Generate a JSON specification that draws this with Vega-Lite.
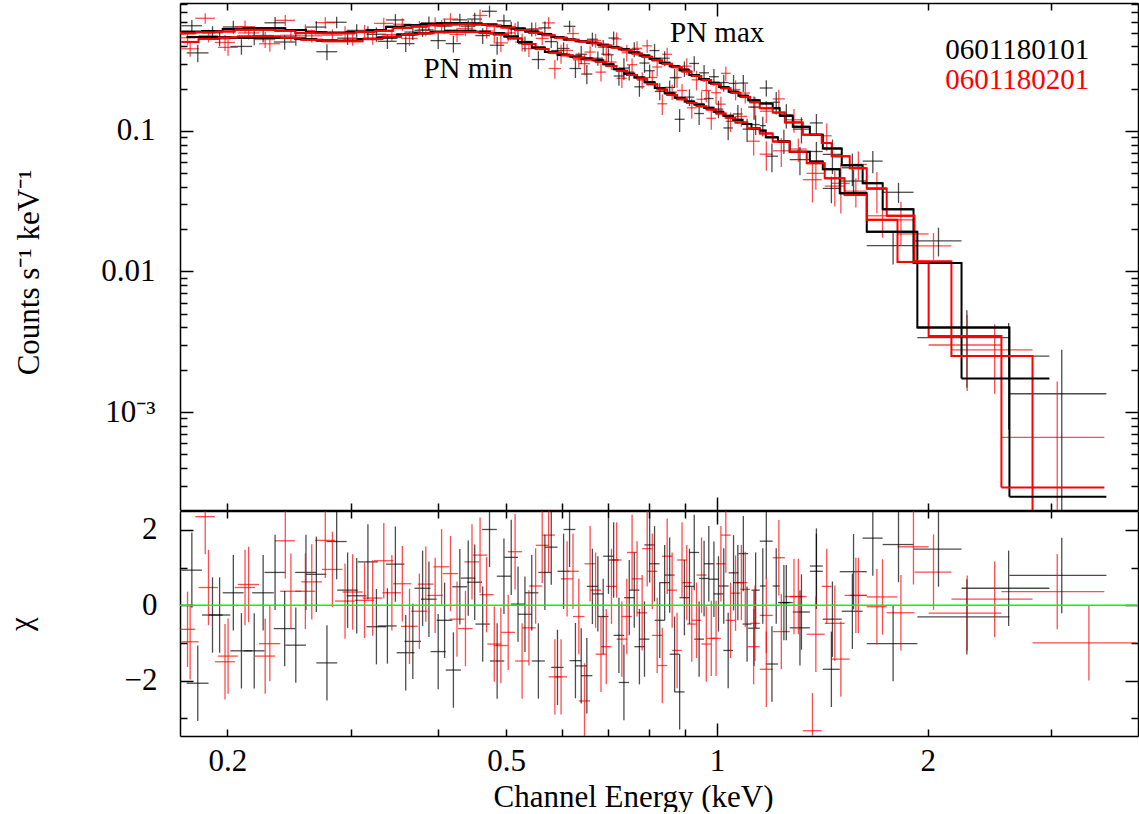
{
"$schema": "https://vega.github.io/schema/vega-lite/v6.json",
"padding": {"left": 5, "top": 2, "right": 1, "bottom": 0},
"spacing": -2,
"config": {
  "font": "Liberation Serif",
  "view": {"stroke": null},
  "axis": {"domainColor": "#000000", "domainWidth": 1.5, "tickColor": "#000000", "tickWidth": 1.5, "tickSize": 0, "grid": false,
    "labelFont": "Liberation Serif", "labelFontSize": 31, "labelColor": "#000000", "labelOverlap": false, "labelBound": false, "labelFlush": false,
    "titleFont": "Liberation Serif", "titleFontSize": 31, "titleFontWeight": "normal", "titleColor": "#000000", "zindex": 1}
},
"datasets": {
"t": [
 {"t":"PN max","x":0.857,"y":0.43,"o":1},
 {"t":"PN min","x":0.381,"y":0.238,"o":1},
 {"t":"0601180101","x":2.118,"y":0.3253,"o":1},
 {"t":"0601180201","x":2.118,"y":0.1988,"o":2}
],
"d": [
{"o":1,"s":"x","a":0.172,"b":0.184,"e":0.178,"m":0.508,"y":0.56,"l":0.504,"h":0.616,"r":0.93,"p":-0.07,"q":1.93},
{"o":1,"s":"x","a":0.184,"b":0.197,"e":0.1905,"m":0.514,"y":0.499,"l":0.443,"h":0.556,"r":-0.26,"p":-1.26,"q":0.74},
{"o":1,"s":"x","a":0.197,"b":0.211,"e":0.204,"m":0.53,"y":0.549,"l":0.491,"h":0.607,"r":0.33,"p":-0.67,"q":1.33},
{"o":1,"s":"x","a":0.211,"b":0.226,"e":0.2185,"m":0.537,"y":0.466,"l":0.407,"h":0.525,"r":-1.21,"p":-2.21,"q":-0.21},
{"o":1,"s":"x","a":0.226,"b":0.242,"e":0.234,"m":0.537,"y":0.588,"l":0.529,"h":0.647,"r":0.87,"p":-0.13,"q":1.87},
{"o":1,"s":"x","a":0.242,"b":0.259,"e":0.2505,"m":0.522,"y":0.461,"l":0.404,"h":0.518,"r":-1.06,"p":-2.06,"q":-0.06},
{"o":1,"s":"x","a":0.259,"b":0.277,"e":0.268,"m":0.503,"y":0.548,"l":0.493,"h":0.604,"r":0.82,"p":-0.18,"q":1.82},
{"o":1,"s":"x","a":0.277,"b":0.296,"e":0.2865,"m":0.5,"y":0.593,"l":0.538,"h":0.648,"r":1.69,"p":0.69,"q":2.69},
{"o":1,"s":"x","a":0.296,"b":0.316,"e":0.306,"m":0.505,"y":0.519,"l":0.463,"h":0.575,"r":0.25,"p":-0.75,"q":1.25},
{"o":1,"s":"x","a":0.316,"b":0.337,"e":0.3265,"m":0.52,"y":0.487,"l":0.43,"h":0.545,"r":-0.57,"p":-1.57,"q":0.43},
{"o":1,"s":"x","a":0.337,"b":0.358,"e":0.3475,"m":0.55,"y":0.616,"l":0.556,"h":0.677,"r":1.09,"p":0.09,"q":2.09},
{"o":1,"s":"x","a":0.358,"b":0.378,"e":0.368,"m":0.565,"y":0.505,"l":0.443,"h":0.568,"r":-0.96,"p":-1.96,"q":0.04},
{"o":1,"s":"x","a":0.378,"b":0.398,"e":0.388,"m":0.577,"y":0.587,"l":0.523,"h":0.651,"r":0.16,"p":-0.84,"q":1.16},
{"o":1,"s":"x","a":0.398,"b":0.419,"e":0.4085,"m":0.583,"y":0.557,"l":0.493,"h":0.622,"r":-0.4,"p":-1.4,"q":0.6},
{"o":1,"s":"x","a":0.419,"b":0.44,"e":0.4295,"m":0.585,"y":0.617,"l":0.552,"h":0.681,"r":0.49,"p":-0.51,"q":1.49},
{"o":1,"s":"x","a":0.44,"b":0.462,"e":0.451,"m":0.582,"y":0.625,"l":0.555,"h":0.694,"r":0.61,"p":-0.39,"q":1.61},
{"o":1,"s":"x","a":0.462,"b":0.485,"e":0.4735,"m":0.572,"y":0.71,"l":0.641,"h":0.779,"r":2.01,"p":1.01,"q":3.01},
{"o":1,"s":"x","a":0.485,"b":0.508,"e":0.4965,"m":0.556,"y":0.607,"l":0.541,"h":0.674,"r":0.77,"p":-0.23,"q":1.77},
{"o":1,"s":"x","a":0.508,"b":0.532,"e":0.52,"m":0.535,"y":0.537,"l":0.472,"h":0.601,"r":0.03,"p":-0.97,"q":1.03},
{"o":1,"s":"x","a":0.532,"b":0.556,"e":0.544,"m":0.51,"y":0.53,"l":0.469,"h":0.591,"r":0.33,"p":-0.67,"q":1.33},
{"o":1,"s":"x","a":0.556,"b":0.58,"e":0.568,"m":0.49,"y":0.541,"l":0.482,"h":0.6,"r":0.87,"p":-0.13,"q":1.87},
{"o":1,"s":"x","a":0.58,"b":0.604,"e":0.592,"m":0.465,"y":0.373,"l":0.317,"h":0.429,"r":-1.65,"p":-2.65,"q":-0.65},
{"o":1,"s":"x","a":0.604,"b":0.628,"e":0.616,"m":0.447,"y":0.555,"l":0.501,"h":0.608,"r":2.01,"p":1.01,"q":3.01},
{"o":1,"s":"x","a":0.628,"b":0.652,"e":0.64,"m":0.435,"y":0.351,"l":0.299,"h":0.403,"r":-1.61,"p":-2.61,"q":-0.61},
{"o":1,"s":"x","a":0.652,"b":0.676,"e":0.664,"m":0.424,"y":0.449,"l":0.398,"h":0.5,"r":0.5,"p":-0.5,"q":1.5},
{"o":1,"s":"x","a":0.676,"b":0.7,"e":0.688,"m":0.41,"y":0.395,"l":0.346,"h":0.444,"r":-0.3,"p":-1.3,"q":0.7},
{"o":1,"s":"x","a":0.7,"b":0.724,"e":0.712,"m":0.396,"y":0.458,"l":0.406,"h":0.509,"r":1.2,"p":0.2,"q":2.2},
{"o":1,"s":"x","a":0.724,"b":0.749,"e":0.7365,"m":0.381,"y":0.28,"l":0.23,"h":0.329,"r":-2.05,"p":-3.05,"q":-1.05},
{"o":1,"s":"x","a":0.749,"b":0.775,"e":0.762,"m":0.362,"y":0.381,"l":0.334,"h":0.428,"r":0.4,"p":-0.6,"q":1.4},
{"o":1,"s":"x","a":0.775,"b":0.801,"e":0.788,"m":0.344,"y":0.304,"l":0.259,"h":0.349,"r":-0.9,"p":-1.9,"q":0.1},
{"o":1,"s":"x","a":0.801,"b":0.828,"e":0.8145,"m":0.326,"y":0.373,"l":0.33,"h":0.415,"r":1.1,"p":0.1,"q":2.1},
{"o":1,"s":"x","a":0.828,"b":0.856,"e":0.842,"m":0.305,"y":0.329,"l":0.289,"h":0.369,"r":0.6,"p":-0.4,"q":1.6},
{"o":1,"s":"x","a":0.856,"b":0.884,"e":0.87,"m":0.288,"y":0.239,"l":0.202,"h":0.276,"r":-1.3,"p":-2.3,"q":-0.3},
{"o":1,"s":"x","a":0.884,"b":0.913,"e":0.8985,"m":0.27,"y":0.277,"l":0.242,"h":0.312,"r":0.2,"p":-0.8,"q":1.2},
{"o":1,"s":"x","a":0.913,"b":0.943,"e":0.928,"m":0.25,"y":0.302,"l":0.265,"h":0.34,"r":1.4,"p":0.4,"q":2.4},
{"o":1,"s":"x","a":0.943,"b":0.974,"e":0.9585,"m":0.234,"y":0.259,"l":0.224,"h":0.294,"r":0.71,"p":-0.29,"q":1.71},
{"o":1,"s":"x","a":0.974,"b":1.006,"e":0.99,"m":0.22,"y":0.243,"l":0.21,"h":0.276,"r":0.69,"p":-0.31,"q":1.69},
{"o":1,"s":"x","a":1.006,"b":1.039,"e":1.0225,"m":0.205,"y":0.221,"l":0.19,"h":0.251,"r":0.51,"p":-0.49,"q":1.51},
{"o":1,"s":"x","a":1.039,"b":1.073,"e":1.056,"m":0.19,"y":0.218,"l":0.186,"h":0.25,"r":0.86,"p":-0.14,"q":1.86},
{"o":1,"s":"x","a":1.073,"b":1.108,"e":1.0905,"m":0.178,"y":0.219,"l":0.189,"h":0.25,"r":1.37,"p":0.37,"q":2.37},
{"o":1,"s":"x","a":1.108,"b":1.151,"e":1.1295,"m":0.165,"y":0.148,"l":0.12,"h":0.176,"r":-0.61,"p":-1.61,"q":0.39},
{"o":1,"s":"x","a":1.151,"b":1.201,"e":1.176,"m":0.157,"y":0.202,"l":0.176,"h":0.229,"r":1.7,"p":0.7,"q":2.7},
{"o":1,"s":"x","a":1.201,"b":1.229,"e":1.215,"m":0.145,"y":0.16,"l":0.131,"h":0.189,"r":0.51,"p":-0.49,"q":1.51},
{"o":1,"s":"x","a":1.229,"b":1.283,"e":1.256,"m":0.128,"y":0.13,"l":0.104,"h":0.155,"r":0.07,"p":-0.93,"q":1.07},
{"o":1,"s":"x","a":1.283,"b":1.357,"e":1.32,"m":0.107,"y":0.103,"l":0.0815,"h":0.125,"r":-0.18,"p":-1.18,"q":0.82},
{"o":1,"s":"x","a":1.357,"b":1.416,"e":1.3865,"m":0.094,"y":0.114,"l":0.0948,"h":0.132,"r":1.04,"p":0.04,"q":2.04},
{"o":1,"s":"x","a":1.416,"b":1.507,"e":1.4615,"m":0.075,"y":0.0681,"l":0.0494,"h":0.0869,"r":-0.37,"p":-1.37,"q":0.63},
{"o":1,"s":"x","a":1.507,"b":1.614,"e":1.5605,"m":0.057,"y":0.0547,"l":0.0405,"h":0.069,"r":-0.16,"p":-1.16,"q":0.84},
{"o":1,"s":"x","a":1.614,"b":1.724,"e":1.669,"m":0.0425,"y":0.061,"l":0.05,"h":0.072,"r":1.78,"p":0.78,"q":2.78},
{"o":1,"s":"x","a":1.724,"b":1.908,"e":1.816,"m":0.0277,"y":0.0366,"l":0.0307,"h":0.0427,"r":1.61,"p":0.61,"q":2.61},
{"o":1,"s":"x","a":1.908,"b":2.234,"e":2.071,"m":0.0115,"y":0.0165,"l":0.0128,"h":0.0205,"r":1.49,"p":0.49,"q":2.49},
{"o":1,"s":"x","a":2.234,"b":2.982,"e":2.608,"m":0.00173,"y":0.0025,"l":0.00075,"h":0.0043,"r":0.45,"p":-0.55,"q":1.45},
{"o":1,"s":"n","a":0.175,"b":0.188,"e":0.1815,"m":0.465,"y":0.359,"l":0.308,"h":0.41,"r":-2.07,"p":-3.07,"q":-1.07},
{"o":1,"s":"n","a":0.188,"b":0.202,"e":0.195,"m":0.465,"y":0.452,"l":0.401,"h":0.503,"r":-0.26,"p":-1.26,"q":0.74},
{"o":1,"s":"n","a":0.202,"b":0.217,"e":0.2095,"m":0.46,"y":0.399,"l":0.348,"h":0.449,"r":-1.21,"p":-2.21,"q":-0.21},
{"o":1,"s":"n","a":0.217,"b":0.233,"e":0.225,"m":0.46,"y":0.477,"l":0.426,"h":0.527,"r":0.33,"p":-0.67,"q":1.33},
{"o":1,"s":"n","a":0.233,"b":0.25,"e":0.2415,"m":0.46,"y":0.429,"l":0.378,"h":0.479,"r":-0.62,"p":-1.62,"q":0.38},
{"o":1,"s":"n","a":0.25,"b":0.268,"e":0.259,"m":0.45,"y":0.493,"l":0.444,"h":0.543,"r":0.87,"p":-0.13,"q":1.87},
{"o":1,"s":"n","a":0.268,"b":0.287,"e":0.2775,"m":0.44,"y":0.366,"l":0.318,"h":0.414,"r":-1.53,"p":-2.53,"q":-0.53},
{"o":1,"s":"n","a":0.287,"b":0.307,"e":0.297,"m":0.438,"y":0.457,"l":0.409,"h":0.505,"r":0.4,"p":-0.6,"q":1.4},
{"o":1,"s":"n","a":0.307,"b":0.328,"e":0.3175,"m":0.45,"y":0.507,"l":0.457,"h":0.556,"r":1.15,"p":0.15,"q":2.15},
{"o":1,"s":"n","a":0.328,"b":0.349,"e":0.3385,"m":0.462,"y":0.434,"l":0.383,"h":0.485,"r":-0.55,"p":-1.55,"q":0.45},
{"o":1,"s":"n","a":0.349,"b":0.37,"e":0.3595,"m":0.485,"y":0.418,"l":0.364,"h":0.471,"r":-1.26,"p":-2.26,"q":-0.26},
{"o":1,"s":"n","a":0.37,"b":0.39,"e":0.38,"m":0.495,"y":0.52,"l":0.465,"h":0.574,"r":0.45,"p":-0.55,"q":1.45},
{"o":1,"s":"n","a":0.39,"b":0.41,"e":0.4,"m":0.508,"y":0.439,"l":0.383,"h":0.495,"r":-1.23,"p":-2.23,"q":-0.23},
{"o":1,"s":"n","a":0.41,"b":0.431,"e":0.4205,"m":0.515,"y":0.418,"l":0.361,"h":0.474,"r":-1.72,"p":-2.72,"q":-0.72},
{"o":1,"s":"n","a":0.431,"b":0.452,"e":0.4415,"m":0.515,"y":0.556,"l":0.499,"h":0.612,"r":0.72,"p":-0.28,"q":1.72},
{"o":1,"s":"n","a":0.452,"b":0.474,"e":0.463,"m":0.507,"y":0.477,"l":0.416,"h":0.537,"r":-0.5,"p":-1.5,"q":0.5},
{"o":1,"s":"n","a":0.474,"b":0.497,"e":0.4855,"m":0.495,"y":0.407,"l":0.348,"h":0.466,"r":-1.48,"p":-2.48,"q":-0.48},
{"o":1,"s":"n","a":0.497,"b":0.52,"e":0.5085,"m":0.47,"y":0.542,"l":0.485,"h":0.598,"r":1.27,"p":0.27,"q":2.27},
{"o":1,"s":"n","a":0.52,"b":0.544,"e":0.532,"m":0.43,"y":0.418,"l":0.366,"h":0.469,"r":-0.24,"p":-1.24,"q":0.76},
{"o":1,"s":"n","a":0.544,"b":0.568,"e":0.556,"m":0.392,"y":0.322,"l":0.275,"h":0.369,"r":-1.48,"p":-2.48,"q":-0.48},
{"o":1,"s":"n","a":0.568,"b":0.592,"e":0.58,"m":0.365,"y":0.432,"l":0.389,"h":0.476,"r":1.54,"p":0.54,"q":2.54},
{"o":1,"s":"n","a":0.592,"b":0.616,"e":0.604,"m":0.348,"y":0.386,"l":0.344,"h":0.427,"r":0.9,"p":-0.1,"q":1.9},
{"o":1,"s":"n","a":0.616,"b":0.64,"e":0.628,"m":0.338,"y":0.278,"l":0.238,"h":0.319,"r":-1.47,"p":-2.47,"q":-0.47},
{"o":1,"s":"n","a":0.64,"b":0.664,"e":0.652,"m":0.328,"y":0.254,"l":0.215,"h":0.294,"r":-1.87,"p":-2.87,"q":-0.87},
{"o":1,"s":"n","a":0.664,"b":0.688,"e":0.676,"m":0.318,"y":0.329,"l":0.291,"h":0.368,"r":0.3,"p":-0.7,"q":1.3},
{"o":1,"s":"n","a":0.688,"b":0.712,"e":0.7,"m":0.298,"y":0.348,"l":0.31,"h":0.387,"r":1.3,"p":0.3,"q":2.3},
{"o":1,"s":"n","a":0.712,"b":0.737,"e":0.7245,"m":0.275,"y":0.246,"l":0.21,"h":0.282,"r":-0.8,"p":-1.8,"q":0.2},
{"o":1,"s":"n","a":0.737,"b":0.762,"e":0.7495,"m":0.255,"y":0.262,"l":0.228,"h":0.295,"r":0.2,"p":-0.8,"q":1.2},
{"o":1,"s":"n","a":0.762,"b":0.788,"e":0.775,"m":0.24,"y":0.206,"l":0.175,"h":0.237,"r":-1.1,"p":-2.1,"q":-0.1},
{"o":1,"s":"n","a":0.788,"b":0.815,"e":0.8015,"m":0.222,"y":0.268,"l":0.239,"h":0.297,"r":1.6,"p":0.6,"q":2.6},
{"o":1,"s":"n","a":0.815,"b":0.842,"e":0.8285,"m":0.202,"y":0.191,"l":0.165,"h":0.218,"r":-0.4,"p":-1.4,"q":0.6},
{"o":1,"s":"n","a":0.842,"b":0.87,"e":0.856,"m":0.185,"y":0.204,"l":0.18,"h":0.228,"r":0.8,"p":-0.2,"q":1.8},
{"o":1,"s":"n","a":0.87,"b":0.899,"e":0.8845,"m":0.172,"y":0.121,"l":0.0982,"h":0.143,"r":-2.3,"p":-3.3,"q":-1.3},
{"o":1,"s":"n","a":0.899,"b":0.928,"e":0.9135,"m":0.162,"y":0.174,"l":0.15,"h":0.198,"r":0.5,"p":-0.5,"q":1.5},
{"o":1,"s":"n","a":0.928,"b":0.958,"e":0.943,"m":0.154,"y":0.133,"l":0.11,"h":0.156,"r":-0.9,"p":-1.9,"q":0.1},
{"o":1,"s":"n","a":0.958,"b":0.989,"e":0.9735,"m":0.146,"y":0.17,"l":0.148,"h":0.192,"r":1.1,"p":0.1,"q":2.1},
{"o":1,"s":"n","a":0.989,"b":1.021,"e":1.005,"m":0.137,"y":0.143,"l":0.123,"h":0.164,"r":0.3,"p":-0.7,"q":1.3},
{"o":1,"s":"n","a":1.021,"b":1.054,"e":1.0375,"m":0.128,"y":0.105,"l":0.0859,"h":0.124,"r":-1.2,"p":-2.2,"q":-0.2},
{"o":1,"s":"n","a":1.054,"b":1.088,"e":1.071,"m":0.12,"y":0.132,"l":0.112,"h":0.153,"r":0.6,"p":-0.4,"q":1.6},
{"o":1,"s":"n","a":1.088,"b":1.12,"e":1.104,"m":0.112,"y":0.103,"l":0.0835,"h":0.122,"r":-0.5,"p":-1.5,"q":0.5},
{"o":1,"s":"n","a":1.12,"b":1.151,"e":1.1355,"m":0.104,"y":0.111,"l":0.0934,"h":0.129,"r":0.4,"p":-0.6,"q":1.4},
{"o":1,"s":"n","a":1.151,"b":1.174,"e":1.1625,"m":0.1005,"y":0.109,"l":0.0918,"h":0.126,"r":0.51,"p":-0.49,"q":1.51},
{"o":1,"s":"n","a":1.174,"b":1.222,"e":1.198,"m":0.09,"y":0.0661,"l":0.0508,"h":0.0814,"r":-1.56,"p":-2.56,"q":-0.56},
{"o":1,"s":"n","a":1.222,"b":1.27,"e":1.246,"m":0.084,"y":0.0852,"l":0.0684,"h":0.102,"r":0.07,"p":-0.93,"q":1.07},
{"o":1,"s":"n","a":1.27,"b":1.357,"e":1.3135,"m":0.071,"y":0.0625,"l":0.0483,"h":0.0767,"r":-0.6,"p":-1.6,"q":0.4},
{"o":1,"s":"n","a":1.357,"b":1.416,"e":1.3865,"m":0.0605,"y":0.0714,"l":0.0593,"h":0.0835,"r":0.9,"p":-0.1,"q":1.9},
{"o":1,"s":"n","a":1.416,"b":1.497,"e":1.4565,"m":0.0534,"y":0.039,"l":0.0306,"h":0.0473,"r":-1.7,"p":-2.7,"q":-0.7},
{"o":1,"s":"n","a":1.497,"b":1.636,"e":1.5665,"m":0.036,"y":0.044,"l":0.035,"h":0.053,"r":0.89,"p":-0.11,"q":1.89},
{"o":1,"s":"n","a":1.636,"b":1.932,"e":1.784,"m":0.0192,"y":0.0153,"l":0.0112,"h":0.0188,"r":-1.02,"p":-2.02,"q":-0.02},
{"o":1,"s":"n","a":1.932,"b":2.615,"e":2.2735,"m":0.004,"y":0.00339,"l":0.00149,"h":0.0053,"r":-0.31,"p":-1.31,"q":0.69},
{"o":1,"s":"n","a":2.615,"b":3.596,"e":3.1055,"m":0.00025,"y":0.00135,"l":0.00001,"h":0.00277,"r":0.79,"p":-0.21,"q":1.79},
{"o":2,"s":"x","a":0.171,"b":0.18,"e":0.1755,"m":0.495,"y":0.46,"l":0.406,"h":0.515,"r":-0.64,"p":-1.64,"q":0.36},
{"o":2,"s":"x","a":0.18,"b":0.192,"e":0.186,"m":0.503,"y":0.633,"l":0.578,"h":0.688,"r":2.35,"p":1.35,"q":3.35},
{"o":2,"s":"x","a":0.192,"b":0.205,"e":0.1985,"m":0.51,"y":0.426,"l":0.37,"h":0.482,"r":-1.5,"p":-2.5,"q":-0.5},
{"o":2,"s":"x","a":0.205,"b":0.219,"e":0.212,"m":0.525,"y":0.552,"l":0.494,"h":0.61,"r":0.47,"p":-0.53,"q":1.47},
{"o":2,"s":"x","a":0.219,"b":0.234,"e":0.2265,"m":0.525,"y":0.447,"l":0.389,"h":0.505,"r":-1.35,"p":-2.35,"q":-0.35},
{"o":2,"s":"x","a":0.234,"b":0.25,"e":0.242,"m":0.515,"y":0.612,"l":0.555,"h":0.669,"r":1.71,"p":0.71,"q":2.71},
{"o":2,"s":"x","a":0.25,"b":0.267,"e":0.2585,"m":0.498,"y":0.518,"l":0.463,"h":0.573,"r":0.37,"p":-0.63,"q":1.37},
{"o":2,"s":"x","a":0.267,"b":0.285,"e":0.276,"m":0.495,"y":0.589,"l":0.534,"h":0.643,"r":1.72,"p":0.72,"q":2.72},
{"o":2,"s":"x","a":0.285,"b":0.304,"e":0.2945,"m":0.495,"y":0.501,"l":0.446,"h":0.555,"r":0.11,"p":-0.89,"q":1.11},
{"o":2,"s":"x","a":0.304,"b":0.324,"e":0.314,"m":0.505,"y":0.512,"l":0.457,"h":0.568,"r":0.13,"p":-0.87,"q":1.13},
{"o":2,"s":"x","a":0.324,"b":0.345,"e":0.3345,"m":0.515,"y":0.582,"l":0.525,"h":0.639,"r":1.18,"p":0.18,"q":2.18},
{"o":2,"s":"x","a":0.345,"b":0.366,"e":0.3555,"m":0.54,"y":0.574,"l":0.514,"h":0.633,"r":0.57,"p":-0.43,"q":1.57},
{"o":2,"s":"x","a":0.366,"b":0.386,"e":0.376,"m":0.555,"y":0.545,"l":0.484,"h":0.606,"r":-0.16,"p":-1.16,"q":0.84},
{"o":2,"s":"x","a":0.386,"b":0.406,"e":0.396,"m":0.565,"y":0.581,"l":0.519,"h":0.643,"r":0.26,"p":-0.74,"q":1.26},
{"o":2,"s":"x","a":0.406,"b":0.427,"e":0.4165,"m":0.572,"y":0.625,"l":0.562,"h":0.688,"r":0.84,"p":-0.16,"q":1.84},
{"o":2,"s":"x","a":0.427,"b":0.448,"e":0.4375,"m":0.575,"y":0.536,"l":0.472,"h":0.599,"r":-0.62,"p":-1.62,"q":0.38},
{"o":2,"s":"x","a":0.448,"b":0.47,"e":0.459,"m":0.572,"y":0.663,"l":0.595,"h":0.732,"r":1.33,"p":0.33,"q":2.33},
{"o":2,"s":"x","a":0.47,"b":0.492,"e":0.481,"m":0.562,"y":0.493,"l":0.425,"h":0.56,"r":-1.03,"p":-2.03,"q":-0.03},
{"o":2,"s":"x","a":0.492,"b":0.515,"e":0.5035,"m":0.545,"y":0.498,"l":0.433,"h":0.564,"r":-0.72,"p":-1.72,"q":0.28},
{"o":2,"s":"x","a":0.515,"b":0.539,"e":0.527,"m":0.522,"y":0.429,"l":0.367,"h":0.492,"r":-1.48,"p":-2.48,"q":-0.48},
{"o":2,"s":"x","a":0.539,"b":0.563,"e":0.551,"m":0.5,"y":0.531,"l":0.471,"h":0.591,"r":0.51,"p":-0.49,"q":1.51},
{"o":2,"s":"x","a":0.563,"b":0.587,"e":0.575,"m":0.48,"y":0.587,"l":0.53,"h":0.645,"r":1.86,"p":0.86,"q":2.86},
{"o":2,"s":"x","a":0.587,"b":0.611,"e":0.599,"m":0.46,"y":0.355,"l":0.3,"h":0.41,"r":-1.9,"p":-2.9,"q":-0.9},
{"o":2,"s":"x","a":0.611,"b":0.635,"e":0.623,"m":0.445,"y":0.493,"l":0.44,"h":0.546,"r":0.9,"p":-0.1,"q":1.9},
{"o":2,"s":"x","a":0.635,"b":0.659,"e":0.647,"m":0.433,"y":0.301,"l":0.249,"h":0.353,"r":-2.54,"p":-3.54,"q":-1.54},
{"o":2,"s":"x","a":0.659,"b":0.683,"e":0.671,"m":0.42,"y":0.44,"l":0.39,"h":0.491,"r":0.4,"p":-0.6,"q":1.4},
{"o":2,"s":"x","a":0.683,"b":0.707,"e":0.695,"m":0.405,"y":0.352,"l":0.303,"h":0.4,"r":-1.1,"p":-2.1,"q":-0.1},
{"o":2,"s":"x","a":0.707,"b":0.731,"e":0.719,"m":0.39,"y":0.451,"l":0.4,"h":0.502,"r":1.2,"p":0.2,"q":2.2},
{"o":2,"s":"x","a":0.731,"b":0.756,"e":0.7435,"m":0.375,"y":0.36,"l":0.312,"h":0.409,"r":-0.3,"p":-1.3,"q":0.7},
{"o":2,"s":"x","a":0.756,"b":0.782,"e":0.769,"m":0.355,"y":0.387,"l":0.341,"h":0.434,"r":0.7,"p":-0.3,"q":1.7},
{"o":2,"s":"x","a":0.782,"b":0.808,"e":0.795,"m":0.337,"y":0.403,"l":0.359,"h":0.446,"r":1.5,"p":0.5,"q":2.5},
{"o":2,"s":"x","a":0.808,"b":0.835,"e":0.8215,"m":0.318,"y":0.285,"l":0.244,"h":0.326,"r":-0.8,"p":-1.8,"q":0.2},
{"o":2,"s":"x","a":0.835,"b":0.863,"e":0.849,"m":0.3,"y":0.351,"l":0.312,"h":0.39,"r":1.3,"p":0.3,"q":2.3},
{"o":2,"s":"x","a":0.863,"b":0.891,"e":0.877,"m":0.284,"y":0.24,"l":0.203,"h":0.277,"r":-1.2,"p":-2.2,"q":-0.2},
{"o":2,"s":"x","a":0.891,"b":0.92,"e":0.9055,"m":0.265,"y":0.289,"l":0.249,"h":0.329,"r":0.6,"p":-0.4,"q":1.6},
{"o":2,"s":"x","a":0.92,"b":0.95,"e":0.935,"m":0.246,"y":0.231,"l":0.194,"h":0.268,"r":-0.4,"p":-1.4,"q":0.6},
{"o":2,"s":"x","a":0.95,"b":0.981,"e":0.9655,"m":0.23,"y":0.194,"l":0.16,"h":0.229,"r":-1.03,"p":-2.03,"q":-0.03},
{"o":2,"s":"x","a":0.981,"b":1.013,"e":0.997,"m":0.216,"y":0.187,"l":0.155,"h":0.22,"r":-0.88,"p":-1.88,"q":0.12},
{"o":2,"s":"x","a":1.013,"b":1.046,"e":1.0295,"m":0.201,"y":0.257,"l":0.227,"h":0.287,"r":1.86,"p":0.86,"q":2.86},
{"o":2,"s":"x","a":1.046,"b":1.08,"e":1.063,"m":0.187,"y":0.197,"l":0.165,"h":0.229,"r":0.32,"p":-0.68,"q":1.32},
{"o":2,"s":"x","a":1.08,"b":1.115,"e":1.0975,"m":0.174,"y":0.186,"l":0.157,"h":0.216,"r":0.42,"p":-0.58,"q":1.42},
{"o":2,"s":"x","a":1.115,"b":1.151,"e":1.133,"m":0.16,"y":0.147,"l":0.12,"h":0.174,"r":-0.48,"p":-1.48,"q":0.52},
{"o":2,"s":"x","a":1.151,"b":1.201,"e":1.176,"m":0.145,"y":0.138,"l":0.114,"h":0.163,"r":-0.27,"p":-1.27,"q":0.73},
{"o":2,"s":"x","a":1.201,"b":1.25,"e":1.2255,"m":0.135,"y":0.169,"l":0.142,"h":0.196,"r":1.26,"p":0.26,"q":2.26},
{"o":2,"s":"x","a":1.25,"b":1.326,"e":1.288,"m":0.115,"y":0.12,"l":0.0969,"h":0.143,"r":0.23,"p":-0.77,"q":1.23},
{"o":2,"s":"x","a":1.326,"b":1.411,"e":1.3685,"m":0.094,"y":0.045,"l":0.031,"h":0.059,"r":-3.33,"p":-4.33,"q":-2.33},
{"o":2,"s":"x","a":1.411,"b":1.458,"e":1.4345,"m":0.082,"y":0.0923,"l":0.0718,"h":0.113,"r":0.5,"p":-0.5,"q":1.5},
{"o":2,"s":"x","a":1.458,"b":1.547,"e":1.5025,"m":0.066,"y":0.0424,"l":0.0259,"h":0.0589,"r":-1.43,"p":-2.43,"q":-0.43},
{"o":2,"s":"x","a":1.547,"b":1.636,"e":1.5915,"m":0.0543,"y":0.0578,"l":0.0442,"h":0.0714,"r":0.26,"p":-0.74,"q":1.26},
{"o":2,"s":"x","a":1.636,"b":1.747,"e":1.6915,"m":0.039,"y":0.0385,"l":0.026,"h":0.051,"r":-0.04,"p":-1.04,"q":0.96},
{"o":2,"s":"x","a":1.747,"b":1.914,"e":1.8305,"m":0.0249,"y":0.0233,"l":0.0153,"h":0.0313,"r":-0.2,"p":-1.2,"q":0.8},
{"o":2,"s":"x","a":1.914,"b":2.161,"e":2.0375,"m":0.0118,"y":0.0152,"l":0.0121,"h":0.0188,"r":0.88,"p":-0.12,"q":1.88},
{"o":2,"s":"x","a":2.161,"b":2.821,"e":2.491,"m":0.0025,"y":0.00277,"l":0.00135,"h":0.0042,"r":0.16,"p":-0.84,"q":1.16},
{"o":2,"s":"x","a":2.821,"b":3.97,"e":3.3955,"m":0.00015,"y":0.00001,"l":0.000001,"h":0.00012,"r":-1.0,"p":-2.0,"q":0.0},
{"o":2,"s":"n","a":0.172,"b":0.182,"e":0.177,"m":0.43,"y":0.384,"l":0.337,"h":0.431,"r":-0.97,"p":-1.97,"q":0.03},
{"o":2,"s":"n","a":0.182,"b":0.194,"e":0.188,"m":0.452,"y":0.475,"l":0.426,"h":0.525,"r":0.47,"p":-0.53,"q":1.47},
{"o":2,"s":"n","a":0.194,"b":0.207,"e":0.2005,"m":0.462,"y":0.393,"l":0.343,"h":0.444,"r":-1.35,"p":-2.35,"q":-0.35},
{"o":2,"s":"n","a":0.207,"b":0.222,"e":0.2145,"m":0.47,"y":0.498,"l":0.447,"h":0.55,"r":0.55,"p":-0.45,"q":1.55},
{"o":2,"s":"n","a":0.222,"b":0.238,"e":0.23,"m":0.47,"y":0.417,"l":0.366,"h":0.469,"r":-1.02,"p":-2.02,"q":-0.02},
{"o":2,"s":"n","a":0.238,"b":0.255,"e":0.2465,"m":0.46,"y":0.479,"l":0.428,"h":0.529,"r":0.37,"p":-0.63,"q":1.37},
{"o":2,"s":"n","a":0.255,"b":0.273,"e":0.264,"m":0.445,"y":0.475,"l":0.426,"h":0.524,"r":0.62,"p":-0.38,"q":1.62},
{"o":2,"s":"n","a":0.273,"b":0.292,"e":0.2825,"m":0.435,"y":0.48,"l":0.433,"h":0.528,"r":0.95,"p":-0.05,"q":1.95},
{"o":2,"s":"n","a":0.292,"b":0.312,"e":0.302,"m":0.435,"y":0.452,"l":0.404,"h":0.5,"r":0.35,"p":-0.65,"q":1.35},
{"o":2,"s":"n","a":0.312,"b":0.333,"e":0.3225,"m":0.45,"y":0.459,"l":0.41,"h":0.509,"r":0.19,"p":-0.81,"q":1.19},
{"o":2,"s":"n","a":0.333,"b":0.354,"e":0.3435,"m":0.468,"y":0.485,"l":0.433,"h":0.536,"r":0.33,"p":-0.67,"q":1.33},
{"o":2,"s":"n","a":0.354,"b":0.374,"e":0.364,"m":0.485,"y":0.455,"l":0.402,"h":0.508,"r":-0.56,"p":-1.56,"q":0.44},
{"o":2,"s":"n","a":0.374,"b":0.394,"e":0.384,"m":0.495,"y":0.526,"l":0.471,"h":0.58,"r":0.56,"p":-0.44,"q":1.56},
{"o":2,"s":"n","a":0.394,"b":0.415,"e":0.4045,"m":0.503,"y":0.559,"l":0.504,"h":0.615,"r":1.02,"p":0.02,"q":2.02},
{"o":2,"s":"n","a":0.415,"b":0.436,"e":0.4255,"m":0.507,"y":0.486,"l":0.43,"h":0.542,"r":-0.37,"p":-1.37,"q":0.63},
{"o":2,"s":"n","a":0.436,"b":0.458,"e":0.447,"m":0.505,"y":0.569,"l":0.513,"h":0.625,"r":1.15,"p":0.15,"q":2.15},
{"o":2,"s":"n","a":0.458,"b":0.48,"e":0.469,"m":0.497,"y":0.514,"l":0.454,"h":0.573,"r":0.28,"p":-0.72,"q":1.28},
{"o":2,"s":"n","a":0.48,"b":0.503,"e":0.4915,"m":0.485,"y":0.423,"l":0.365,"h":0.481,"r":-1.07,"p":-2.07,"q":-0.07},
{"o":2,"s":"n","a":0.503,"b":0.527,"e":0.515,"m":0.455,"y":0.533,"l":0.478,"h":0.587,"r":1.42,"p":0.42,"q":2.42},
{"o":2,"s":"n","a":0.527,"b":0.551,"e":0.539,"m":0.415,"y":0.385,"l":0.335,"h":0.435,"r":-0.6,"p":-1.6,"q":0.4},
{"o":2,"s":"n","a":0.551,"b":0.575,"e":0.563,"m":0.382,"y":0.455,"l":0.409,"h":0.501,"r":1.59,"p":0.59,"q":2.59},
{"o":2,"s":"n","a":0.575,"b":0.599,"e":0.587,"m":0.36,"y":0.278,"l":0.235,"h":0.321,"r":-1.9,"p":-2.9,"q":-0.9},
{"o":2,"s":"n","a":0.599,"b":0.623,"e":0.611,"m":0.345,"y":0.374,"l":0.333,"h":0.415,"r":0.7,"p":-0.3,"q":1.7},
{"o":2,"s":"n","a":0.623,"b":0.647,"e":0.635,"m":0.333,"y":0.321,"l":0.281,"h":0.361,"r":-0.3,"p":-1.3,"q":0.7},
{"o":2,"s":"n","a":0.647,"b":0.671,"e":0.659,"m":0.322,"y":0.364,"l":0.326,"h":0.403,"r":1.1,"p":0.1,"q":2.1},
{"o":2,"s":"n","a":0.671,"b":0.695,"e":0.683,"m":0.31,"y":0.262,"l":0.225,"h":0.299,"r":-1.3,"p":-2.3,"q":-0.3},
{"o":2,"s":"n","a":0.695,"b":0.719,"e":0.707,"m":0.29,"y":0.309,"l":0.271,"h":0.347,"r":0.5,"p":-0.5,"q":1.5},
{"o":2,"s":"n","a":0.719,"b":0.744,"e":0.7315,"m":0.268,"y":0.237,"l":0.202,"h":0.272,"r":-0.9,"p":-1.9,"q":0.1},
{"o":2,"s":"n","a":0.744,"b":0.769,"e":0.7565,"m":0.25,"y":0.296,"l":0.263,"h":0.328,"r":1.4,"p":0.4,"q":2.4},
{"o":2,"s":"n","a":0.769,"b":0.795,"e":0.782,"m":0.236,"y":0.23,"l":0.199,"h":0.261,"r":-0.2,"p":-1.2,"q":0.8},
{"o":2,"s":"n","a":0.795,"b":0.822,"e":0.8085,"m":0.215,"y":0.24,"l":0.212,"h":0.268,"r":0.9,"p":-0.1,"q":1.9},
{"o":2,"s":"n","a":0.822,"b":0.849,"e":0.8355,"m":0.197,"y":0.156,"l":0.13,"h":0.182,"r":-1.6,"p":-2.6,"q":-0.6},
{"o":2,"s":"n","a":0.849,"b":0.877,"e":0.863,"m":0.18,"y":0.189,"l":0.166,"h":0.213,"r":0.4,"p":-0.6,"q":1.4},
{"o":2,"s":"n","a":0.877,"b":0.906,"e":0.8915,"m":0.168,"y":0.194,"l":0.172,"h":0.216,"r":1.2,"p":0.2,"q":2.2},
{"o":2,"s":"n","a":0.906,"b":0.935,"e":0.9205,"m":0.158,"y":0.146,"l":0.122,"h":0.17,"r":-0.5,"p":-1.5,"q":0.5},
{"o":2,"s":"n","a":0.935,"b":0.966,"e":0.9505,"m":0.15,"y":0.168,"l":0.146,"h":0.191,"r":0.8,"p":-0.2,"q":1.8},
{"o":2,"s":"n","a":0.966,"b":0.997,"e":0.9815,"m":0.142,"y":0.123,"l":0.102,"h":0.145,"r":-0.88,"p":-1.88,"q":0.12},
{"o":2,"s":"n","a":0.997,"b":1.029,"e":1.013,"m":0.133,"y":0.155,"l":0.135,"h":0.175,"r":1.1,"p":0.1,"q":2.1},
{"o":2,"s":"n","a":1.029,"b":1.062,"e":1.0455,"m":0.124,"y":0.117,"l":0.0981,"h":0.135,"r":-0.4,"p":-1.4,"q":0.6},
{"o":2,"s":"n","a":1.062,"b":1.105,"e":1.0835,"m":0.115,"y":0.127,"l":0.107,"h":0.146,"r":0.6,"p":-0.4,"q":1.6},
{"o":2,"s":"n","a":1.105,"b":1.151,"e":1.128,"m":0.104,"y":0.0845,"l":0.0668,"h":0.102,"r":-1.1,"p":-2.1,"q":-0.1},
{"o":2,"s":"n","a":1.151,"b":1.201,"e":1.176,"m":0.096,"y":0.0683,"l":0.052,"h":0.0846,"r":-1.7,"p":-2.7,"q":-0.7},
{"o":2,"s":"n","a":1.201,"b":1.27,"e":1.2355,"m":0.084,"y":0.0722,"l":0.0554,"h":0.089,"r":-0.7,"p":-1.7,"q":0.3},
{"o":2,"s":"n","a":1.27,"b":1.343,"e":1.3065,"m":0.071,"y":0.0743,"l":0.0601,"h":0.0885,"r":0.23,"p":-0.77,"q":1.23},
{"o":2,"s":"n","a":1.343,"b":1.425,"e":1.384,"m":0.059,"y":0.0499,"l":0.0381,"h":0.0617,"r":-0.77,"p":-1.77,"q":0.23},
{"o":2,"s":"n","a":1.425,"b":1.521,"e":1.473,"m":0.046,"y":0.0405,"l":0.029,"h":0.052,"r":-0.48,"p":-1.48,"q":0.52},
{"o":2,"s":"n","a":1.521,"b":1.636,"e":1.5785,"m":0.035,"y":0.0373,"l":0.0285,"h":0.0461,"r":0.26,"p":-0.74,"q":1.26},
{"o":2,"s":"n","a":1.636,"b":1.81,"e":1.723,"m":0.0233,"y":0.0249,"l":0.0174,"h":0.0324,"r":0.22,"p":-0.78,"q":1.22},
{"o":2,"s":"n","a":1.81,"b":2.005,"e":1.9075,"m":0.0117,"y":0.0185,"l":0.0135,"h":0.0235,"r":1.55,"p":0.55,"q":2.55},
{"o":2,"s":"n","a":2.005,"b":2.547,"e":2.276,"m":0.00347,"y":0.003,"l":0.00141,"h":0.0049,"r":-0.21,"p":-1.21,"q":0.79},
{"o":2,"s":"n","a":2.547,"b":3.572,"e":3.0595,"m":0.00029,"y":0.00066,"l":0.00001,"h":0.00165,"r":0.36,"p":-0.64,"q":1.36}
]
},
"vconcat": [
{
  "width": 958, "height": 507,
  "data": {"name": "d"},
  "resolve": {"axis": {"x": "independent", "y": "independent"}},
  "layer": [
    {
      "mark": {"type": "rule", "clip": true, "strokeWidth": 1.3, "opacity": 0.7},
      "encoding": {
        "x": {"field": "a", "type": "quantitative", "scale": {"type": "log", "domain": [0.1712, 3.99], "nice": false},
              "axis": {"orient": "bottom", "values": [0.2,0.3,0.4,0.5,0.6,0.7,0.8,0.9,1,2,3], "labels": false, "title": null,
                       "encoding": {"ticks": {"y2": {"condition": {"test": "datum.value == 1", "value": -13}, "value": -7}}}}},
        "x2": {"field": "b"},
        "y": {"field": "y", "type": "quantitative", "scale": {"type": "log", "domain": [0.000201, 0.813], "nice": false},
              "axis": {"orient": "left",
                       "values": [0.0003,0.0004,0.0005,0.0006,0.0007,0.0008,0.0009,0.001,0.002,0.003,0.004,0.005,0.006,0.007,0.008,0.009,0.01,0.02,0.03,0.04,0.05,0.06,0.07,0.08,0.09,0.1,0.2,0.3,0.4,0.5,0.6,0.7,0.8],
                       "labelExpr": "datum.value == 0.1 ? '0.1' : datum.value == 0.01 ? '0.01' : datum.value == 0.001 ? '10⁻³' : ''",
                       "labelFontSize": {"condition": {"test": "datum.value == 0.1 || datum.value == 0.01 || datum.value == 0.001", "value": 31}, "value": 0},
                       "labelPadding": 25,
                       "title": "Counts s⁻¹ keV⁻¹", "titleX": -142, "titleY": 269, "titleAngle": 270, "titleAlign": "center", "titleBaseline": "alphabetic",
                       "encoding": {"ticks": {"x2": {"condition": {"test": "datum.value == 0.1 || datum.value == 0.01 || datum.value == 0.001", "value": 13}, "value": 7}}}}},
        "color": {"field": "o", "type": "nominal", "scale": {"domain": [1, 2], "range": ["#000000", "#ff0000"]}, "legend": null}
      }
    },
    {
      "mark": {"type": "rule", "clip": true, "strokeWidth": 1.3, "opacity": 0.7},
      "encoding": {
        "x": {"field": "e", "type": "quantitative", "scale": {"type": "log", "domain": [0.1712, 3.99], "nice": false},
              "axis": {"orient": "top", "values": [0.2,0.3,0.4,0.5,0.6,0.7,0.8,0.9,1,2,3], "labels": false, "title": null,
                       "encoding": {"ticks": {"y2": {"condition": {"test": "datum.value == 1", "value": 13}, "value": 7}}}}},
        "y": {"field": "l", "type": "quantitative", "scale": {"type": "log", "domain": [0.000201, 0.813], "nice": false},
              "axis": {"orient": "right",
                       "values": [0.0003,0.0004,0.0005,0.0006,0.0007,0.0008,0.0009,0.001,0.002,0.003,0.004,0.005,0.006,0.007,0.008,0.009,0.01,0.02,0.03,0.04,0.05,0.06,0.07,0.08,0.09,0.1,0.2,0.3,0.4,0.5,0.6,0.7,0.8],
                       "labels": false, "title": null,
                       "encoding": {"ticks": {"x2": {"condition": {"test": "datum.value == 0.1 || datum.value == 0.01 || datum.value == 0.001", "value": -13}, "value": -7}}}}},
        "y2": {"field": "h"},
        "color": {"field": "o", "type": "nominal", "scale": {"domain": [1, 2], "range": ["#000000", "#ff0000"]}, "legend": null}
      }
    },
    {
      "mark": {"type": "line", "interpolate": "step-after", "clip": true, "strokeWidth": 2},
      "encoding": {
        "x": {"field": "a", "type": "quantitative", "scale": {"type": "log", "domain": [0.1712, 3.99], "nice": false}, "axis": null},
        "y": {"field": "m", "type": "quantitative", "scale": {"type": "log", "domain": [0.000201, 0.813], "nice": false}, "axis": null},
        "color": {"field": "o", "type": "nominal", "scale": {"domain": [1, 2], "range": ["#000000", "#ff0000"]}, "legend": null},
        "detail": {"field": "s"}
      }
    },
    {
      "mark": {"type": "rule", "clip": true, "strokeWidth": 2},
      "encoding": {
        "x": {"field": "a", "type": "quantitative", "scale": {"type": "log", "domain": [0.1712, 3.99], "nice": false}, "axis": null},
        "x2": {"field": "b"},
        "y": {"field": "m", "type": "quantitative", "scale": {"type": "log", "domain": [0.000201, 0.813], "nice": false}, "axis": null},
        "color": {"field": "o", "type": "nominal", "scale": {"domain": [1, 2], "range": ["#000000", "#ff0000"]}, "legend": null}
      }
    },
    {
      "data": {"name": "t"},
      "mark": {"type": "text", "align": "left", "baseline": "alphabetic", "fontSize": 29, "font": "Liberation Serif"},
      "encoding": {
        "x": {"field": "x", "type": "quantitative", "scale": {"type": "log", "domain": [0.1712, 3.99], "nice": false}, "axis": null},
        "y": {"field": "y", "type": "quantitative", "scale": {"type": "log", "domain": [0.000201, 0.813], "nice": false}, "axis": null},
        "text": {"field": "t"},
        "color": {"field": "o", "type": "nominal", "scale": {"domain": [1, 2], "range": ["#000000", "#ff0000"]}, "legend": null}
      }
    }
  ]
},
{
  "width": 958, "height": 225,
  "data": {"name": "d"},
  "resolve": {"axis": {"x": "independent", "y": "independent"}},
  "layer": [
    {
      "mark": {"type": "rule", "clip": true, "strokeWidth": 1.3, "opacity": 0.7},
      "encoding": {
        "x": {"field": "a", "type": "quantitative", "scale": {"type": "log", "domain": [0.1712, 3.99], "nice": false},
              "axis": {"orient": "bottom", "values": [0.2,0.3,0.4,0.5,0.6,0.7,0.8,0.9,1,2,3],
                       "labelExpr": "datum.value == 0.2 ? '0.2' : datum.value == 0.5 ? '0.5' : datum.value == 1 ? '1' : datum.value == 2 ? '2' : ''",
                       "labelPadding": 10,
                       "title": "Channel Energy (keV)", "titleX": 453, "titleY": 70, "titleAlign": "center", "titleBaseline": "alphabetic",
                       "encoding": {"ticks": {"y2": {"condition": {"test": "datum.value == 1", "value": -13}, "value": -7}}}}},
        "x2": {"field": "b"},
        "y": {"field": "r", "type": "quantitative", "scale": {"domain": [-3.47, 2.5], "nice": false, "zero": false},
              "axis": {"orient": "left", "values": [-3,-2,-1,0,1,2],
                       "labelExpr": "datum.value % 2 == 0 ? datum.label : ''",
                       "labelPadding": 23,
                       "title": "χ", "titleX": -150, "titleY": 112.5, "titleAngle": 270, "titleAlign": "center", "titleBaseline": "alphabetic",
                       "encoding": {"ticks": {"x2": {"condition": {"test": "datum.value % 2 == 0", "value": 13}, "value": 7}}}}},
        "color": {"field": "o", "type": "nominal", "scale": {"domain": [1, 2], "range": ["#000000", "#ff0000"]}, "legend": null}
      }
    },
    {
      "mark": {"type": "rule", "clip": true, "strokeWidth": 1.3, "opacity": 0.7},
      "encoding": {
        "x": {"field": "e", "type": "quantitative", "scale": {"type": "log", "domain": [0.1712, 3.99], "nice": false},
              "axis": {"orient": "top", "values": [0.2,0.3,0.4,0.5,0.6,0.7,0.8,0.9,1,2,3], "labels": false, "title": null,
                       "encoding": {"ticks": {"y2": {"condition": {"test": "datum.value == 1", "value": 13}, "value": 7}}}}},
        "y": {"field": "p", "type": "quantitative", "scale": {"domain": [-3.47, 2.5], "nice": false, "zero": false},
              "axis": {"orient": "right", "values": [-3,-2,-1,0,1,2], "labels": false, "title": null,
                       "encoding": {"ticks": {"x2": {"condition": {"test": "datum.value % 2 == 0", "value": -13}, "value": -7}}}}},
        "y2": {"field": "q"},
        "color": {"field": "o", "type": "nominal", "scale": {"domain": [1, 2], "range": ["#000000", "#ff0000"]}, "legend": null}
      }
    },
    {
      "data": {"values": [{"z": 0}]},
      "mark": {"type": "rule", "color": "#00ff00", "strokeWidth": 1.5},
      "encoding": {
        "y": {"field": "z", "type": "quantitative", "scale": {"domain": [-3.47, 2.5], "nice": false, "zero": false}, "axis": null}
      }
    }
  ]
}
]
}
